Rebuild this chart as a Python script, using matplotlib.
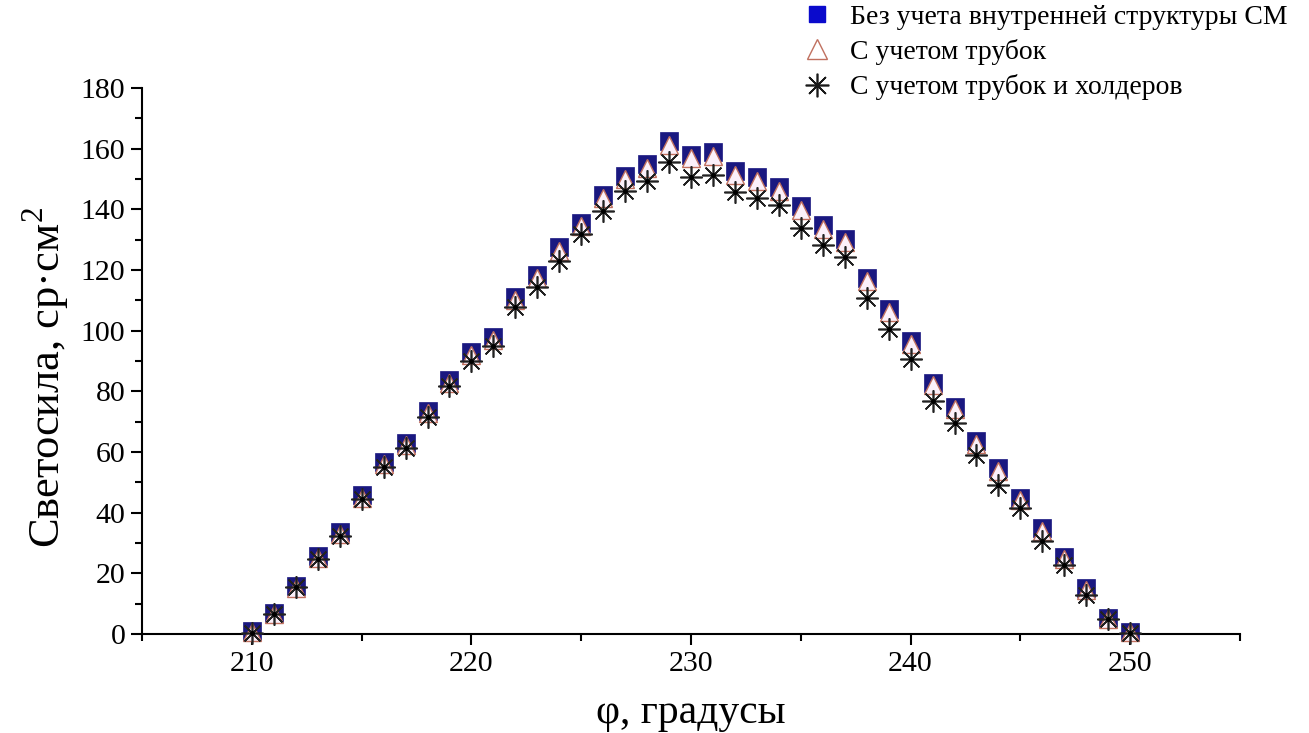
import numpy as np
import matplotlib.pyplot as plt
from matplotlib.lines import Line2D
from matplotlib.ticker import MultipleLocator

plt.rcParams['font.family'] = ['Liberation Serif', 'DejaVu Serif']
plt.rcParams['mathtext.fontset'] = 'custom'
plt.rcParams['mathtext.rm'] = 'Liberation Serif'

# angle, degrees
phi = list(range(210, 251))

# without internal structure of the module
no_struct = [1, 7, 16, 25.7, 33.6, 45.8, 56.7, 63, 73.5, 83.7,
             92.9, 98, 111.2, 118.2, 127.5, 135.6, 144.7, 151, 154.8, 162.5,
             158, 158.9, 152.6, 150.5, 147.2, 141, 134.7, 130.3, 117.5, 107.2,
             96.6, 82.8, 75, 63.5, 54.6, 45, 34.8, 25.5, 15.1, 5.2, 0.8]

# with tubes
tubes = [0.8, 6.5, 15.3, 25, 33, 45, 56, 62.3, 72.8, 82.8,
         92, 97, 110.2, 117.2, 126.4, 134.5, 143.6, 149.9, 153.6, 161.2,
         156.8, 157.7, 151.4, 149.3, 146, 139.9, 133.6, 129.2, 116.5, 106.2,
         95.6, 82, 74.2, 62.8, 53.9, 44.3, 34.1, 24.9, 14.6, 4.9, 0.6]

# with tubes and holders
tubes_holders = [0.5, 6.5, 15.6, 24.7, 32.3, 44.4, 54.9, 61.2, 71.7, 81.6,
                 90, 95, 107.9, 114.5, 123, 131.8, 139.5, 145.9, 149.4, 155.7,
                 150.8, 151.3, 145.8, 143.6, 141.4, 134, 128.3, 124.4, 110.7, 100.4,
                 90.6, 76.9, 69.7, 59, 49.1, 41.4, 30.8, 22.7, 12.9, 4.8, 0.3]

labels = ["Без учета внутренней структуры СМ",
          "С учетом трубок",
          "С учетом трубок и холдеров"]

sq_color = '#1a1880'
tri_edge = '#c0705f'
tri_face = '#fbf0fa'
star_marker = (8, 2, 0)

fig = plt.figure(figsize=(13.09, 7.33), dpi=100)
ax = fig.add_axes([0.1085, 0.135, 0.8388, 0.745])

ax.plot(phi, no_struct, linestyle='none', marker='s', markersize=12.5,
        markerfacecolor=sq_color, markeredgecolor=sq_color, markeredgewidth=0.5,
        clip_on=False, zorder=3)
ax.plot(phi, tubes, linestyle='none', marker='^', markersize=13.5,
        markerfacecolor=tri_face, markeredgecolor=tri_edge, markeredgewidth=1.0,
        clip_on=False, zorder=4)
ax.plot(phi, tubes_holders, linestyle='none', marker=star_marker, markersize=16,
        markeredgecolor='#222222', markeredgewidth=1.2, clip_on=False, zorder=5)
ax.plot(phi, tubes_holders, linestyle='none', marker='o', markersize=2.5,
        color='black', clip_on=False, zorder=6)

ax.set_xlim(205, 255)
ax.set_ylim(0, 180)
ax.xaxis.set_major_locator(MultipleLocator(10))
ax.xaxis.set_minor_locator(MultipleLocator(5))
ax.yaxis.set_major_locator(MultipleLocator(20))
ax.yaxis.set_minor_locator(MultipleLocator(10))

ax.spines['top'].set_visible(False)
ax.spines['right'].set_visible(False)
for s in ['left', 'bottom']:
    ax.spines[s].set_linewidth(1.5)
ax.tick_params(which='major', direction='out', length=8, width=1.5, labelsize=21.5,
               pad=4)
ax.tick_params(which='minor', direction='out', length=5, width=1.5)

ax.set_xlabel('φ, градусы', fontsize=30, labelpad=12)
ax.set_ylabel('Светосила, ср·см$^{2}$', fontsize=32)
ax.yaxis.set_label_coords(-0.064, 0.47)

handles = [
    Line2D([], [], linestyle='none', marker='s', markersize=12,
           markerfacecolor='#0a0acc', markeredgecolor='#0a0acc'),
    Line2D([], [], linestyle='none', marker='^', markersize=14,
           markerfacecolor='white', markeredgecolor=tri_edge, markeredgewidth=1.0),
    Line2D([], [], linestyle='none', marker=star_marker, markersize=17,
           markeredgecolor='#1a1a1a', markeredgewidth=1.2),
]
fig.legend(handles, labels, loc='upper left', bbox_to_anchor=(0.590, 1.028),
           frameon=False, fontsize=20, handletextpad=0.5, labelspacing=0.33,
           handlelength=1.4)

fig.savefig('out.png', dpi=100)
